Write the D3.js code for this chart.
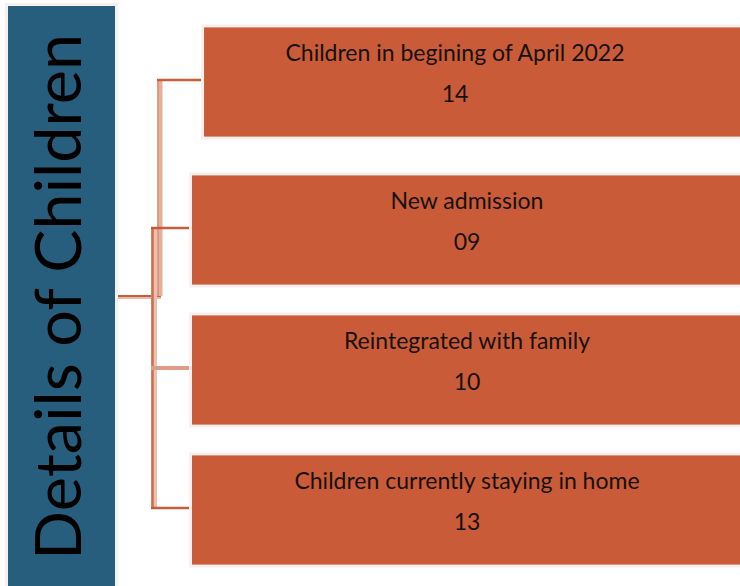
<!DOCTYPE html>
<meta charset="utf-8">
<html>
<script src="https://d3js.org/d3.v7.min.js"></script>
<style>
    body { margin: 0; background: #fff; }
</style>
<body>
<div id="my_dataviz"></div>
<script>
    // chart data
    var title = "Details of Children";
    var labels = ["Children in begining of April 2022", "New admission", "Reintegrated with family", "Children currently staying in home"];
    var values = ["14", "09", "10", "13"];

    var width = 740, height = 586;
    var orange = "#c95b38", blue = "#285e7d", rim = "#f6f1ef";

    var svg = d3.select("#my_dataviz")
        .append("svg")
        .attr("width", width)
        .attr("height", height);

    // vertical placement of the boxes
    var y = d3.scaleBand()
        .domain(labels)
        .range([20, 580])
        .paddingInner(0.22)
        .paddingOuter(0.11);

    // first box sits a little higher and further right (as in the original)
    var shift = function (i) { return i === 0 ? { dx: 12, dy: -8 } : { dx: 0, dy: 0 }; };
    var boxX = 192;

    // title bar
    svg.append("rect")
        .attr("x", 6.5).attr("y", 4.5)
        .attr("width", 110).attr("height", 600)
        .attr("fill", blue)
        .attr("stroke", rim).attr("stroke-width", 3);

    var barMid = 296;
    svg.append("text")
        .attr("transform", "translate(81,560) rotate(-90)")
        .attr("font-family", "Lato, 'Open Sans', sans-serif")
        .attr("font-size", 64)
        .attr("fill", "#000")
        .attr("textLength", 526)
        .attr("lengthAdjust", "spacingAndGlyphs")
        .text(title);

    // connectors
    var conn = svg.append("g").attr("fill", "none");
    var cy = function (d, i) { return y(d) + shift(i).dy + y.bandwidth() / 2 - 2; };

    // main stem from title bar
    conn.append("line").attr("x1", 118).attr("x2", 161).attr("y1", barMid + 2).attr("y2", barMid + 2)
        .attr("stroke", "#eab9a8").attr("stroke-width", 2);
    conn.append("line").attr("x1", 118).attr("x2", 161).attr("y1", barMid).attr("y2", barMid)
        .attr("stroke", orange).attr("stroke-width", 2);

    // branch to first box
    var c0 = cy(labels[0], 0);
    conn.append("line").attr("x1", 160).attr("x2", 160).attr("y1", c0).attr("y2", barMid)
        .attr("stroke", "#e8b09c").attr("stroke-width", 5);
    conn.append("line").attr("x1", 158).attr("x2", 158).attr("y1", c0).attr("y2", barMid)
        .attr("stroke", "#d98e75").attr("stroke-width", 1.5);
    conn.append("line").attr("x1", 157).attr("x2", boxX + shift(0).dx - 3).attr("y1", c0).attr("y2", c0)
        .attr("stroke", orange).attr("stroke-width", 2.5);

    // branches to the other boxes
    var rest = labels.slice(1);
    var cFirst = cy(rest[0], 1), cLast = cy(rest[rest.length - 1], 3);
    conn.append("line").attr("x1", 154).attr("x2", 154).attr("y1", cFirst).attr("y2", cLast)
        .attr("stroke", "#ecc0b0").attr("stroke-width", 6);
    conn.append("line").attr("x1", 152.5).attr("x2", 152.5).attr("y1", cFirst).attr("y2", cLast)
        .attr("stroke", "#cf6d4d").attr("stroke-width", 2.5);
    conn.selectAll("line.branch")
        .data(rest).enter().append("line")
        .attr("class", "branch")
        .attr("x1", 151).attr("x2", boxX - 3)
        .attr("y1", function (d, i) { return cy(d, i + 1); })
        .attr("y2", function (d, i) { return cy(d, i + 1); })
        .attr("stroke", function (d, i) { return i === 1 ? "#de9c86" : orange; })
        .attr("stroke-width", function (d, i) { return i === 1 ? 4 : 2.5; });

    // boxes
    var box = svg.selectAll("g.box")
        .data(labels).enter().append("g")
        .attr("class", "box")
        .attr("transform", function (d, i) {
            return "translate(" + (boxX + shift(i).dx) + "," + (y(d) + shift(i).dy) + ")";
        });

    box.append("rect")
        .attr("x", -1.5).attr("y", -1.5)
        .attr("width", 600).attr("height", y.bandwidth() + 3)
        .attr("fill", orange)
        .attr("stroke", rim).attr("stroke-width", 3);

    var textX = function (d, i) { return i === 0 ? 251 : 275; };

    box.append("text")
        .attr("x", textX)
        .attr("y", 28)
        .attr("text-anchor", "middle")
        .attr("dominant-baseline", "middle")
        .attr("font-family", "Lato, 'Open Sans', sans-serif")
        .attr("font-size", 23)
        .attr("fill", "#17110d")
        .text(function (d) { return d; });

    box.append("text")
        .attr("x", textX)
        .attr("y", 69)
        .attr("text-anchor", "middle")
        .attr("dominant-baseline", "middle")
        .attr("font-family", "Lato, 'Open Sans', sans-serif")
        .attr("font-size", 23)
        .attr("fill", "#17110d")
        .text(function (d, i) { return values[i]; });
</script>
</body>
</html>
